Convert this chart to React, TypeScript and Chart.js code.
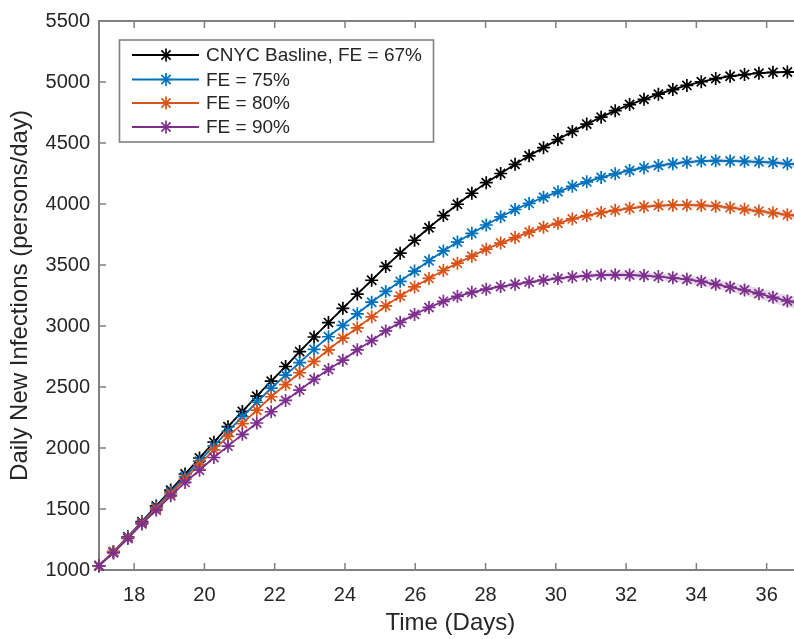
import React, { useEffect, useRef } from "react";
import { Chart, registerables } from "chart.js";

Chart.register(...registerables);

// ---- data ----
const days = [
  17, 17.41, 17.82, 18.22, 18.63, 19.04, 19.45, 19.86, 20.27, 20.67,
  21.08, 21.49, 21.9, 22.31, 22.71, 23.12, 23.53, 23.94, 24.35, 24.76,
  25.16, 25.57, 25.98, 26.39, 26.8, 27.2, 27.61, 28.02, 28.43, 28.84,
  29.24, 29.65, 30.06, 30.47, 30.88, 31.29, 31.69, 32.1, 32.51, 32.92,
  33.33, 33.73, 34.14, 34.55, 34.96, 35.37, 35.78, 36.18, 36.59, 37,
];

const baselineFE67 = [
  1035, 1150, 1272, 1396, 1525, 1655, 1787, 1918, 2048, 2175,
  2300, 2425, 2548, 2668, 2790, 2910, 3028, 3145, 3262, 3375,
  3488, 3597, 3703, 3805, 3905, 3998, 4088, 4175, 4250, 4325,
  4395, 4462, 4528, 4595, 4655, 4712, 4765, 4815, 4858, 4900,
  4938, 4972, 5002, 5028, 5047, 5061, 5072, 5079, 5082, 5081,
];

const fe75 = [
  1035, 1150, 1270, 1390, 1515, 1640, 1765, 1892, 2017, 2137,
  2257, 2375, 2490, 2598, 2700, 2808, 2912, 3005, 3100, 3195,
  3283, 3366, 3450, 3535, 3615, 3688, 3760, 3828, 3895, 3955,
  4005, 4055, 4100, 4145, 4182, 4218, 4247, 4275, 4298, 4315,
  4330, 4343, 4352, 4355, 4353, 4350, 4346, 4340, 4330, 4320,
];

const fe80 = [
  1035, 1148, 1265, 1385, 1505, 1625, 1745, 1865, 1985, 2095,
  2200, 2310, 2420, 2520, 2617, 2710, 2805, 2900, 2985, 3075,
  3165, 3245, 3320, 3390, 3455, 3515, 3572, 3630, 3680, 3725,
  3770, 3810, 3842, 3878, 3905, 3930, 3948, 3965, 3978, 3987,
  3990, 3990, 3988, 3982, 3970, 3956, 3942, 3928, 3912, 3895,
];

const fe90 = [
  1035, 1140, 1258, 1378, 1490, 1608, 1718, 1818, 1922, 2015,
  2112, 2205, 2297, 2390, 2474, 2563, 2644, 2720, 2805, 2880,
  2960, 3030, 3095, 3152, 3202, 3243, 3276, 3302, 3323, 3342,
  3360, 3376, 3390, 3402, 3412, 3418, 3420, 3418, 3413, 3405,
  3395, 3383, 3365, 3342, 3318, 3295, 3265, 3235, 3205, 3175,
];

// half-width of the faint shaded bands around the curves
const fe75Spread = [
  0, 0, 0, 0, 0, 0, 0, 0, 0, 0, 0, 0, 0, 0, 0, 0, 0, 0, 0, 0,
  0, 0, 0, 0, 0, 0, 2, 3, 4, 5, 6, 7, 8, 9, 10, 11, 12, 13, 14, 15,
  16, 17, 18, 19, 20, 21, 22, 23, 24, 25,
];
const fe80Spread = [
  0, 0, 0, 0, 0, 0, 0, 0, 0, 0, 0, 0, 0, 0, 0, 0, 0, 0, 0, 0,
  0, 0, 0, 0, 2, 3, 4, 5, 6, 7, 8, 9, 10, 11, 12, 13, 14, 15, 16, 17,
  18, 19, 20, 21, 22, 23, 24, 25, 26, 27,
];
const fe90Spread = [
  0, 0, 0, 0, 0, 0, 0, 0, 0, 0, 0, 0, 0, 0, 0, 0, 0, 0, 2, 3,
  4, 5, 6, 7, 8, 9, 10, 11, 12, 13, 14, 15, 16, 18, 20, 22, 24, 26, 28, 30,
  32, 34, 36, 38, 40, 42, 44, 46, 48, 50,
];

const xTickValues = [18, 20, 22, 24, 26, 28, 30, 32, 34, 36];
const yTickValues = [1000, 1500, 2000, 2500, 3000, 3500, 4000, 4500, 5000, 5500];

const seriesLabels = ["CNYC Basline, FE = 67%", "FE = 75%", "FE = 80%", "FE = 90%"];
const xTitle = "Time (Days)";
const yTitle = "Daily New Infections (persons/day)";

// ---- styles ----
const FONT = "'Liberation Sans', Arial, Helvetica, sans-serif";
const TEXT = "#262626";
const AXIS = "#808080";
const COLORS = ["#000000", "#0072BD", "#D95319", "#7E2F8E"];
const SERIES = [baselineFE67, fe75, fe80, fe90];
const SPREADS = [null, fe75Spread, fe80Spread, fe90Spread];
const BAND_COLORS = [
  "rgba(0,0,0,0)",
  "rgba(140,140,150,0.28)",
  "rgba(150,140,140,0.28)",
  "rgba(130,90,140,0.22)",
];

function drawStar(ctx: CanvasRenderingContext2D, x: number, y: number, r: number) {
  ctx.beginPath();
  for (let k = 0; k < 4; k++) {
    const a = (k * Math.PI) / 4;
    const dx = Math.cos(a) * r;
    const dy = Math.sin(a) * r;
    ctx.moveTo(x - dx, y - dy);
    ctx.lineTo(x + dx, y + dy);
  }
  ctx.stroke();
}

const framePlugin = {
  id: "matlabFrame",
  beforeDatasetsDraw(chart: any) {
    const { ctx, chartArea: a, scales } = chart;
    ctx.save();
    ctx.strokeStyle = AXIS;
    ctx.lineWidth = 2;
    ctx.strokeRect(a.left, a.top, a.right - a.left, a.bottom - a.top);
    ctx.lineWidth = 1.5;
    ctx.beginPath();
    for (const v of xTickValues) {
      const px = scales.x.getPixelForValue(v);
      ctx.moveTo(px, a.bottom);
      ctx.lineTo(px, a.bottom - 7);
      ctx.moveTo(px, a.top);
      ctx.lineTo(px, a.top + 7);
    }
    for (const v of yTickValues) {
      const py = scales.y.getPixelForValue(v);
      ctx.moveTo(a.left, py);
      ctx.lineTo(a.left + 7, py);
      ctx.moveTo(a.right, py);
      ctx.lineTo(a.right - 7, py);
    }
    ctx.stroke();
    ctx.restore();
  },
  afterDraw(chart: any) {
    const { ctx } = chart;
    ctx.save();
    const bx = 119.5, by = 40, bw = 314, bh = 102;
    ctx.fillStyle = "#ffffff";
    ctx.fillRect(bx, by, bw, bh);
    ctx.strokeStyle = AXIS;
    ctx.lineWidth = 1.6;
    ctx.strokeRect(bx, by, bw, bh);
    const rows = [55, 79.5, 103, 127];
    ctx.font = `19px ${FONT}`;
    ctx.textBaseline = "middle";
    ctx.textAlign = "left";
    seriesLabels.forEach((label, i) => {
      const ry = rows[i];
      ctx.strokeStyle = COLORS[i];
      ctx.lineWidth = 1.8;
      ctx.beginPath();
      ctx.moveTo(132, ry);
      ctx.lineTo(199, ry);
      ctx.stroke();
      ctx.lineWidth = 1.7;
      drawStar(ctx, 166, ry, 6.5);
      ctx.fillStyle = TEXT;
      ctx.fillText(label, 206, ry + 1);
    });
    ctx.restore();
  },
};

export default function App() {
  const ref = useRef<HTMLCanvasElement>(null);

  useEffect(() => {
    if (!ref.current) return;
    const datasets: any[] = [];
    // shaded bands (drawn under the lines)
    SERIES.forEach((s, i) => {
      const sp = SPREADS[i];
      if (!sp) return;
      datasets.push({
        label: "lo" + i,
        data: days.map((d, k) => ({ x: d, y: s[k] - sp[k] })),
        borderWidth: 0,
        pointRadius: 0,
        fill: false,
        order: 20,
        clip: false,
      });
      datasets.push({
        label: "hi" + i,
        data: days.map((d, k) => ({ x: d, y: s[k] + sp[k] })),
        borderWidth: 0,
        pointRadius: 0,
        backgroundColor: BAND_COLORS[i],
        fill: "-1",
        order: 20,
        clip: false,
      });
    });
    SERIES.forEach((s, i) => {
      datasets.push({
        label: seriesLabels[i],
        data: days.map((d, k) => ({ x: d, y: s[k] })),
        borderColor: COLORS[i],
        backgroundColor: COLORS[i],
        borderWidth: 1.8,
        pointStyle: "star",
        pointRadius: 6.5,
        pointBorderWidth: 1.7,
        pointBorderColor: COLORS[i],
        pointBackgroundColor: COLORS[i],
        fill: false,
        tension: 0,
        order: 4 - i,
        clip: false,
      });
    });

    const chart = new Chart(ref.current, {
      type: "line",
      data: { datasets },
      plugins: [framePlugin],
      options: {
        animation: false,
        responsive: false,
        devicePixelRatio: 1,
        layout: { padding: { left: 0, top: 18, right: 7, bottom: 0 } },
        plugins: {
          legend: { display: false },
          tooltip: { enabled: false },
        },
        scales: {
          x: {
            type: "linear",
            min: 17,
            max: 37,
            afterBuildTicks: (scale: any) => {
              scale.ticks = xTickValues.map((v) => ({ value: v }));
            },
            afterFit: (scale: any) => {
              scale.height = 69;
            },
            grid: { display: false, drawTicks: false },
            border: { display: false },
            ticks: {
              padding: 13,
              color: TEXT,
              font: { size: 20, family: FONT },
              maxRotation: 0,
              autoSkip: false,
              callback: (v: any) => String(v),
            },
            title: {
              display: true,
              text: xTitle,
              color: TEXT,
              font: { size: 24, family: FONT },
              padding: { top: 0, bottom: 1 },
            },
          },
          y: {
            type: "linear",
            min: 1000,
            max: 5500,
            afterBuildTicks: (scale: any) => {
              scale.ticks = yTickValues.map((v) => ({ value: v }));
            },
            afterFit: (scale: any) => {
              scale.width = 99;
            },
            grid: { display: false, drawTicks: false },
            border: { display: false },
            ticks: {
              padding: 9,
              color: TEXT,
              font: { size: 20, family: FONT },
              autoSkip: false,
              callback: (v: any) => String(v),
            },
            title: {
              display: true,
              text: yTitle,
              color: TEXT,
              font: { size: 24, family: FONT },
              padding: { top: 6, bottom: 0 },
            },
          },
        },
      } as any,
    });
    return () => chart.destroy();
  }, []);

  return (
    <div
      style={{
        position: "absolute",
        left: 0,
        top: 0,
        width: 794,
        height: 639,
        overflow: "hidden",
        background: "#ffffff",
      }}
    >
      <canvas ref={ref} width={810} height={639} style={{ display: "block", width: 810, height: 639 }} />
    </div>
  );
}
